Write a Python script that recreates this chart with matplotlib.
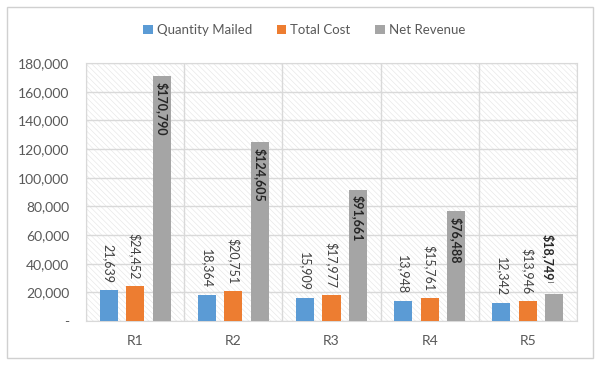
import numpy as np
import matplotlib
matplotlib.use("Agg")
import matplotlib.pyplot as plt

plt.rcParams['font.family'] = ['Lato', 'DejaVu Sans']
plt.rcParams['hatch.linewidth'] = 0.4

# data
regions = ['R1', 'R2', 'R3', 'R4', 'R5']
qty_mailed = [21639, 18364, 15909, 13948, 12342]
total_cost = [24452, 20751, 17977, 15761, 13946]
net_revenue = [170790, 124605, 91661, 76488, 18749]
series_names = ['Quantity Mailed', 'Total Cost', 'Net Revenue']
yticks = [0, 20000, 40000, 60000, 80000, 100000, 120000, 140000, 160000, 180000]

colors = ['#5B9BD5', '#ED7D31', '#A5A5A5']
txt = '#595959'

fig = plt.figure(figsize=(6, 3.65), dpi=100)
fig.patches.append(plt.Rectangle((7 / 600, 7 / 365), 586 / 600, 351 / 365,
                                 transform=fig.transFigure, fill=False,
                                 edgecolor='#d0d0d0', linewidth=1))
ax = fig.add_axes([86 / 600, 1 - 321 / 365, 491 / 600, 258 / 365])

# fine diagonal pattern in the plot area
ax.patch.set_facecolor('white')
ax.patch.set_hatch('\\' * 6)
ax.patch.set_edgecolor('#e4e4e4')

x = np.arange(len(regions))
w = 0.185
step = 0.27
data = [qty_mailed, total_cost, net_revenue]
bars = []
for i, (vals, c, name) in enumerate(zip(data, colors, series_names)):
    b = ax.bar(x + (i - 1) * step, vals, width=w, color=c, label=name, zorder=3)
    bars.append(b)

# labels for blue/orange: above bar
for i in range(2):
    for xi, v in zip(x, data[i]):
        pre = '$' if i == 1 else ''
        ax.annotate(f'{pre}{v:,}', (xi + (i - 1) * step, v), xytext=(0, 5),
                    textcoords='offset points', rotation=270, ha='center',
                    va='bottom', fontsize=9, color='#404040', zorder=4)

# gray: inside end, bold; last one outside with leader line
for xi, v in zip(x, net_revenue):
    xp = xi + step
    if v > 50000:
        ax.annotate(f'${v:,}', (xp, v), xytext=(0, -4),
                    textcoords='offset points', rotation=270, ha='center',
                    va='top', fontsize=9, color='#262626', fontweight='bold', zorder=4)
    else:
        ax.annotate(f'${v:,}', (xp - 0.07, v), xytext=(0, 10),
                    textcoords='offset points', rotation=270, ha='center',
                    va='bottom', fontsize=9, color='#262626', fontweight='bold', zorder=4)
        ax.plot([xp - 0.07, xp - 0.01], [v + 8500, v + 8500], color='#7f7f7f', lw=0.7, zorder=4)

ax.set_xlim(-0.5, len(regions) - 0.5)
ax.set_ylim(0, 180000)
ax.set_yticks(yticks)
ax.set_yticklabels(['-' if t == 0 else f'{t:,}' for t in yticks])
ax.set_xticks(x)
ax.set_xticklabels(regions)
ax.set_xticks(np.arange(len(regions) + 1) - 0.5, minor=True)
ax.tick_params(axis='both', which='both', length=0, labelsize=10, colors=txt)
ax.tick_params(axis='x', pad=10)
ax.tick_params(axis='y', pad=12)
ax.grid(axis='y', which='major', color='#d9d9d9', linewidth=1, zorder=1)
ax.grid(axis='x', which='minor', color='#d9d9d9', linewidth=1, zorder=1)
ax.set_axisbelow(True)
for s in ax.spines.values():
    s.set_color('#d9d9d9')

fig.legend(handles=bars, labels=series_names, loc='center', bbox_to_anchor=(0.507, 1 - 30 / 365),
           ncol=3, frameon=False, fontsize=9.5, handlelength=0.7, handleheight=0.7,
           handletextpad=0.3, columnspacing=1.9, labelcolor=txt)

fig.savefig('out.png', dpi=100)
